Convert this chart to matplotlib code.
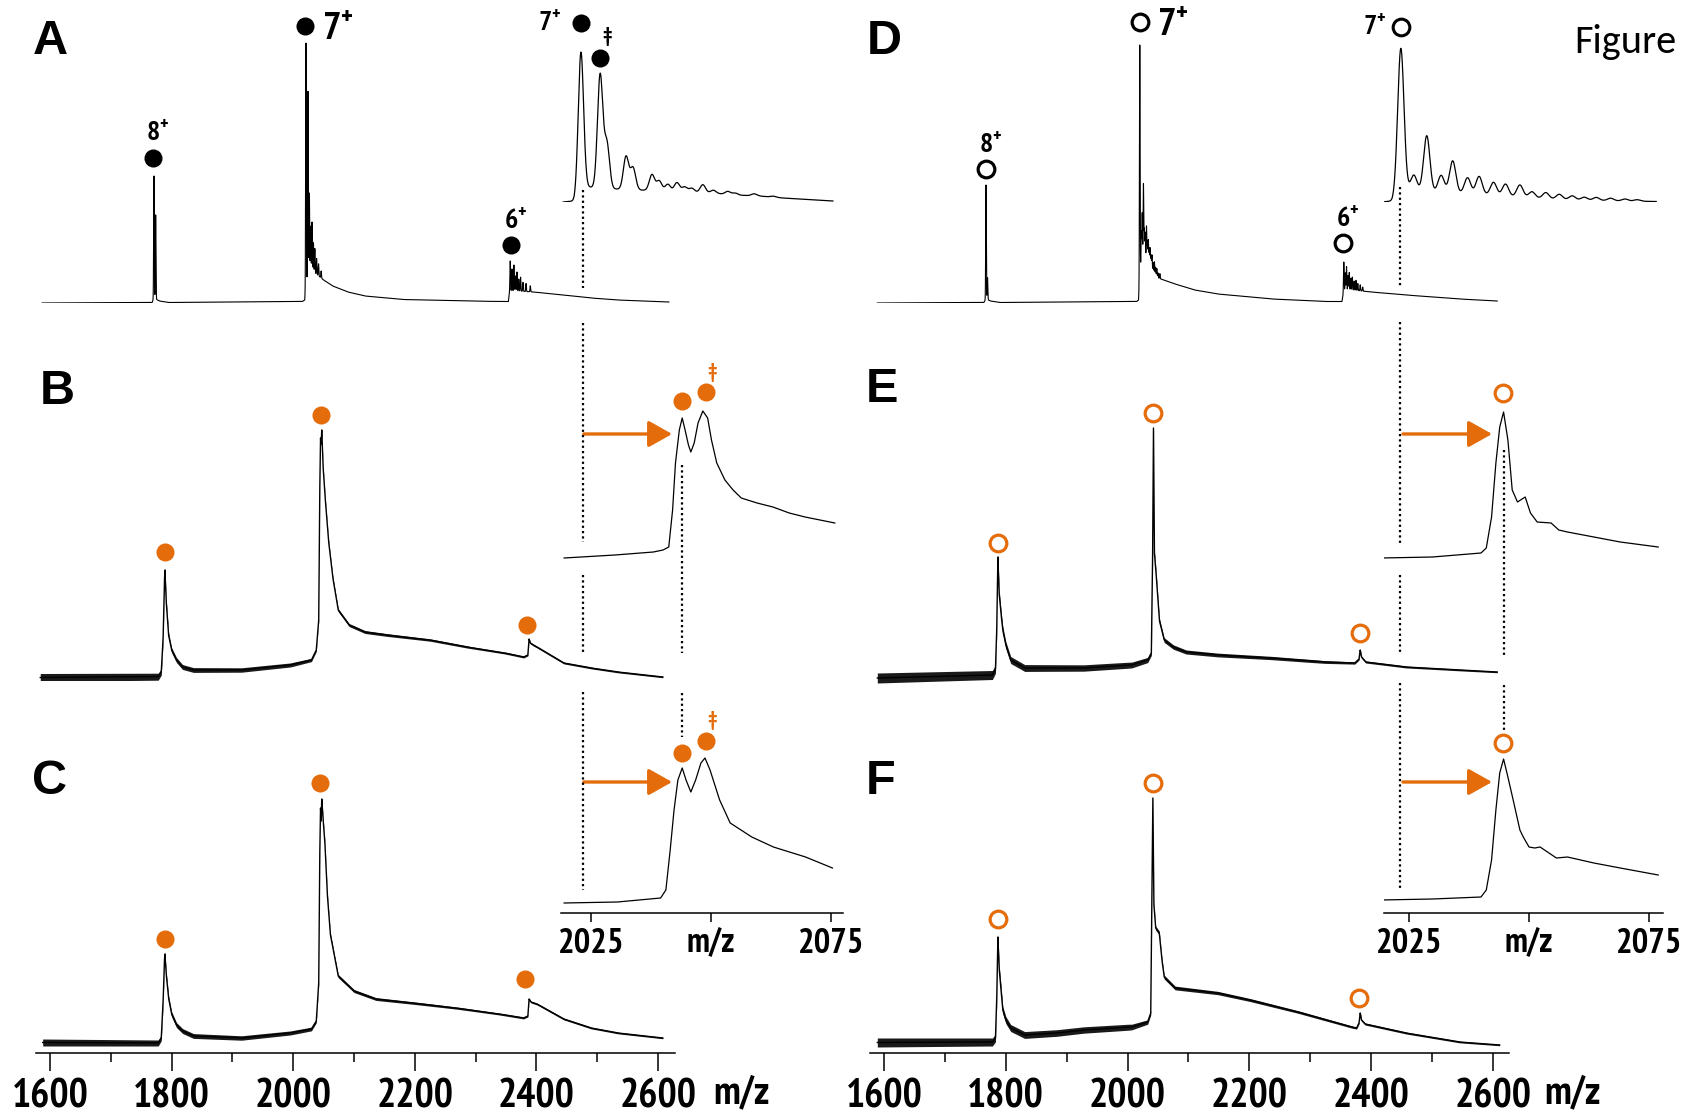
import numpy as np
import matplotlib
matplotlib.use("Agg")
import matplotlib.pyplot as plt
from matplotlib import font_manager

W, H = 1684, 1116
ORANGE = "#E46C0A"

# ---------------- main spectra, full m/z range ----------------
# A and D: sharp isotopic spikes on a background (m/z, intensity)
a_bg_mz = [1587, 1768, 1771, 1780, 1795, 2015, 2019, 2021, 2028, 2040, 2050, 2065, 2090,
           2118, 2180, 2312, 2354, 2356, 2370, 2395, 2420, 2445, 2490, 2533, 2618]
a_bg_int = [0, 0.5, 5, 2, 0.5, 1.5, 3, 22, 32, 28, 23, 17, 11, 7, 3.5, 1.7, 1.5, 12, 12,
            11, 9.5, 8, 5, 3, 1]
a_pk_mz = [1771, 1773.8, 2021, 2024.3, 2026.6, 2028.8, 2031, 2033.3, 2035.6, 2038.5,
           2041.7, 2046, 2357, 2360, 2363, 2365.5, 2368, 2371, 2374, 2378, 2383, 2390]
a_pk_int = [122, 84, 238, 185, 80, 45, 50, 30, 25, 16, 12, 7, 30, 22, 26, 15, 19, 12, 14,
            9, 8, 6]

d_bg_mz = [1589, 1764, 1767.5, 1775, 1790, 2015, 2018, 2020, 2026, 2032, 2040, 2050, 2078,
           2110, 2148, 2237, 2324, 2352, 2355, 2370, 2400, 2457, 2545, 2607]
d_bg_int = [0, 0.5, 4, 2, 0.5, 1.5, 3, 30, 45, 40, 32, 25, 19, 13, 9, 4, 1.5, 1.5, 12, 13,
            11, 8, 4, 2]
d_pk_mz = [1767.5, 1770, 2020, 2022.5, 2024, 2026, 2027.5, 2029, 2031, 2032.5, 2034,
           2035.5, 2037, 2038.5, 2040, 2042, 2044, 2046, 2048, 2050, 2053, 2355, 2357.5,
           2359.5, 2362, 2364, 2366.5, 2369, 2372, 2375, 2378, 2382, 2386]
d_pk_int = [114, 22, 228, 35, 50, 74, 30, 28, 36, 22, 25, 18, 20, 14, 16, 10, 12, 8, 8, 5,
            5, 29, 18, 24, 15, 18, 12, 13, 9, 10, 7, 6, 4]

# B, C, E, F: profile traces (m/z, intensity) and baseline noise band width
b_mz = [1584, 1778, 1783, 1786, 1788, 1789, 1791, 1795, 1800, 1808, 1818, 1836, 1915, 1995,
        2030, 2038, 2042, 2043.5, 2045, 2046, 2047, 2049, 2052, 2058, 2065, 2074, 2092,
        2118, 2154, 2225, 2286, 2348, 2379, 2386, 2388, 2390, 2395, 2401, 2445, 2490,
        2534, 2608]
b_int = [2.5, 3.3, 8, 40, 95, 110, 80, 45, 30, 20, 13, 10, 10, 15, 20, 30, 60, 180, 242,
         236, 250, 215, 187, 140, 103, 70, 55, 48, 45, 40, 33, 27, 23, 25, 41, 37, 35, 33,
         17, 12, 8, 3]
b_noise_mz = [1584, 1778, 1800, 2000, 2040, 2100, 2300, 2608]
b_noise = [8, 7, 5, 4, 3, 3, 2, 1.5]

c_mz = [1588, 1778, 1783, 1786, 1788, 1789, 1791, 1795, 1800, 1808, 1818, 1836, 1915, 1995,
        2030, 2038, 2042, 2043.5, 2045, 2046, 2047, 2049, 2052, 2056, 2061, 2074, 2100,
        2136, 2197, 2268, 2339, 2379, 2386, 2388, 2391, 2401, 2445, 2490, 2534, 2608]
c_int = [10.5, 10, 15, 50, 90, 99, 80, 55, 39, 28, 22, 17, 15, 20, 24, 32, 70, 190, 245,
         232, 254, 235, 212, 160, 119, 77, 62, 54, 50, 45, 39, 35, 37, 54, 51, 49, 34, 25,
         20, 15]
c_noise_mz = [1588, 1778, 1800, 2000, 2100, 2300, 2608]
c_noise = [7, 6, 5, 4, 3, 2, 1.5]

e_mz = [1589, 1778, 1783, 1785, 1787, 1789, 1792, 1795, 1800, 1808, 1831, 1928, 2007, 2033,
        2039, 2041, 2042.5, 2044, 2046, 2049, 2052, 2060, 2075, 2096, 2148, 2236, 2324,
        2373, 2380, 2382, 2384, 2391, 2457, 2545, 2607]
e_int = [5, 8, 14, 50, 126, 90, 70, 53, 38, 23, 15, 15, 18, 23, 30, 120, 255, 130, 116, 90,
         63, 43, 36, 31, 28, 25, 21, 20, 24, 33, 26, 21, 16, 13, 11]
e_noise_mz = [1589, 1778, 1800, 2000, 2040, 2100, 2300, 2400, 2607]
e_noise = [10, 9, 7, 6, 5, 4, 3, 2, 1.5]

f_mz = [1589, 1778, 1783, 1785, 1787, 1789, 1792, 1795, 1800, 1808, 1831, 1884, 1928, 2007,
        2033, 2038, 2041.5, 2043, 2046, 2052, 2056, 2060, 2078, 2148, 2201, 2280, 2368,
        2376, 2380, 2382, 2384, 2390, 2457, 2545, 2611]
f_int = [10.5, 11, 15, 50, 116, 85, 65, 43, 33, 25, 18, 20, 23, 26, 31, 40, 255, 150, 125,
         120, 95, 76, 65, 60, 53, 41, 26, 25, 30, 40, 33, 29, 20, 11, 8]
f_noise_mz = [1589, 1778, 1800, 2000, 2040, 2200, 2400, 2611]
f_noise = [9, 8, 7, 6, 4, 3, 2, 1.5]

# ---------------- insets, 7+ region ----------------
ia_bg_mz = [2019.2, 2021.5, 2022.5, 2024, 2027, 2030, 2035, 2040, 2045, 2050, 2055, 2060,
            2065, 2070, 2075.4]
ia_bg_int = [0, 1, 8, 15, 14, 13, 12, 11, 10, 9, 7, 6, 4, 2.5, 1]
ia_pk_mz = [2022.9, 2026.9, 2028.3, 2032.3, 2033.75, 2037.7, 2039.2, 2041.0, 2042.9, 2044.5,
            2046.0, 2048.3, 2050.5, 2053.5, 2055.0, 2059.0, 2063.0]
ia_pk_int = [140, 113, 45, 33, 22, 16, 10, 7, 9, 5, 4, 8, 3, 3, 2, 2, 1]

id_bg_mz = [2019.4, 2021.5, 2022.5, 2024, 2026, 2030, 2035, 2040, 2045, 2050, 2055, 2060,
            2065, 2070, 2076.5]
id_bg_int = [0, 1, 6, 11, 11, 10, 9, 7.5, 6, 4.5, 3, 2, 1.5, 1, 0.5]
id_pk_mz = [2023.3, 2026.0, 2028.7, 2031.7, 2034.1, 2037.2, 2039.6, 2042.6, 2045.1, 2048.1,
            2050.6, 2053.5, 2056.3, 2059.0, 2061.5, 2064.0, 2067.0, 2070.0, 2072.5]
id_pk_int = [145, 16, 56, 17, 32, 16, 18, 13, 12, 12, 6, 6, 5, 4, 3, 3, 2.5, 2, 1.5]

ib_mz = [2019.4, 2030, 2038, 2040, 2041.2, 2042.0, 2042.6, 2043.4, 2044.0, 2044.6, 2045.3,
         2045.8, 2046.5, 2047.3, 2048.3, 2049.3, 2050.1, 2051.2, 2052.9, 2054.6, 2056.3,
         2059.6, 2062.9, 2066.3, 2069.6, 2075.8]
ib_int = [10, 13, 16, 18, 21, 58, 105, 138, 150, 138, 123, 116, 125, 145, 157, 150, 128,
          105, 88, 78, 70, 65, 61, 55, 51, 45]

ic_mz = [2019.4, 2030.5, 2039.5, 2040.6, 2041.5, 2042.3, 2043.1, 2044.0, 2044.8, 2045.8,
         2046.8, 2047.9, 2048.75, 2049.8, 2051.8, 2054.0, 2058.5, 2063.0, 2069.7, 2075.3]
ic_int = [10, 11, 15, 23, 63, 103, 133, 145, 133, 121, 133, 150, 155, 143, 113, 90, 76, 66,
          56, 45]

ie_mz = [2019.3, 2029.9, 2040.0, 2041.1, 2042.2, 2043.1, 2043.9, 2044.7, 2045.6, 2046.5,
         2047.6, 2049.2, 2050.3, 2051.7, 2054.6, 2056.2, 2058.0, 2063.5, 2069.0, 2076.9]
ie_int = [10, 11, 15, 20, 51, 105, 141, 156, 128, 78, 66, 71, 55, 46, 45, 38, 36, 31, 26,
          21]

if_mz = [2019.1, 2029.9, 2040.0, 2041.1, 2042.2, 2043.1, 2043.9, 2044.7, 2045.6, 2046.7,
         2048.1, 2048.8, 2050.0, 2051.2, 2052.3, 2055.7, 2058.0, 2063.5, 2069.0, 2076.9]
if_int = [13, 14, 16, 23, 53, 103, 140, 154, 136, 113, 83, 76, 66, 65, 66, 55, 56, 50, 45,
          38]

# marker positions (m/z, intensity) for the charge states 8+, 7+, 6+
a_mark_mz, a_mark_int = [1769, 2019.5, 2358], [145, 277, 58]
d_mark_mz, d_mark_int = [1767.5, 2019.6, 2353], [134, 281, 60]
b_mark_mz, b_mark_int = [1789, 2046, 2385], [128, 265, 55]
c_mark_mz, c_mark_int = [1789, 2044, 2382], [114, 270, 74]
e_mark_mz, e_mark_int = [1788, 2042.5, 2382], [140, 270, 50]
f_mark_mz, f_mark_int = [1788, 2042.5, 2380], [134, 270, 55]
charge_labels = ["8", "7", "6"]

main_ticks = [1600, 1800, 2000, 2200, 2400, 2600]
main_minor = [1700, 1900, 2100, 2300, 2500]
inset_ticks = [2025, 2050, 2075]
inset_ticklabels = ["2025", "m/z", "2075"]


def first_font(cands, need_bold=False):
    faces = font_manager.fontManager.ttflist
    for c in cands:
        w = [f.weight for f in faces if f.name == c]
        if not w:
            continue
        if need_bold and not any(isinstance(x, int) and x >= 700 or x == "bold" for x in w):
            continue
        return c
    return "DejaVu Sans"


NARROW = first_font(["Liberation Sans Narrow", "Arial Narrow", "PT Sans Narrow",
                     "Roboto Condensed", "Fira Sans Condensed", "IBM Plex Sans Condensed",
                     "Asap Condensed", "Barlow Condensed", "Liberation Sans"], True)
ARIAL = first_font(["Liberation Sans", "Arimo", "DejaVu Sans"], True)
CALIBRI = first_font(["Carlito", "Lato", "Open Sans"])
plt.rcParams["mathtext.fontset"] = "custom"
plt.rcParams["mathtext.bf"] = NARROW + ":bold"
plt.rcParams["mathtext.rm"] = NARROW + ":bold"

fig = plt.figure(figsize=(W / 100, H / 100), dpi=100)


def px_axes(x0, x1, y_base, xlim, height=300):
    ax = fig.add_axes([x0 / W, 1 - y_base / H, (x1 - x0) / W, height / H])
    ax.set_xlim(*xlim)
    ax.set_ylim(0, height)
    ax.patch.set_alpha(0)
    for s in ax.spines.values():
        s.set_visible(False)
    ax.set_xticks([])
    ax.set_yticks([])
    return ax


def spike_trace(bg_mz, bg_int, pk_mz, pk_int, sigma, step):
    x = np.arange(bg_mz[0], bg_mz[-1], step)
    y = np.interp(x, bg_mz, bg_int)
    for m, h in zip(pk_mz, pk_int):
        y = y + h * np.exp(-0.5 * ((x - m) / sigma) ** 2)
    return x, y


def profile(ax, mz, inten, noise_mz=None, noise=None, lw=1.0):
    x = np.arange(mz[0], mz[-1], 0.1)
    y = np.interp(x, mz, inten)
    if noise is not None:
        n = np.interp(x, noise_mz, noise)
        ax.fill_between(x, y - n / 2, y + n / 2, color="0.1", lw=0)
    ax.plot(x, y, color="black", lw=lw)


def bold_axis(ax, ticks, labels, size, major_len, minor=None, pad=5):
    ax.spines["bottom"].set_visible(True)
    ax.spines["bottom"].set_linewidth(1.1)
    ax.set_xticks(ticks)
    ax.set_xticklabels(labels, fontsize=size, fontweight="bold", family=NARROW)
    ax.tick_params(axis="x", which="major", length=major_len, width=1.1, direction="out",
                   pad=pad)
    if minor is not None:
        ax.set_xticks(minor, minor=True)
        ax.tick_params(axis="x", which="minor", length=major_len / 2, width=1.1,
                       direction="out")


def charge_marks(ax, mz, inten, color, filled, labels=None, big=1):
    for i, (m, h) in enumerate(zip(mz, inten)):
        if filled:
            ax.plot(m, h, "o", ms=13, color=color, mec="none", clip_on=False)
        else:
            ax.plot(m, h, "o", ms=12, mfc="white", mec=color, mew=2.3, clip_on=False)
        if labels is None:
            continue
        txt = r"$\mathbf{" + labels[i] + "^{+}}$"
        if i == big:
            ax.annotate(txt, (m, h), xytext=(17, -3), textcoords="offset pixels",
                        fontsize=28, ha="left", va="center")
        else:
            ax.annotate(txt, (m, h), xytext=(5, 24), textcoords="offset pixels",
                        fontsize=20, ha="center", va="center")


XL_LEFT, XL_RIGHT = (1577, 2628), (1577, 2626.3)
IL_LEFT, IL_RIGHT = (2018.75, 2077.5), (2019.8, 2077.9)

# ---------------- main panels ----------------
axA = px_axes(36, 675, 303, XL_LEFT)
x, y = spike_trace(a_bg_mz, a_bg_int, a_pk_mz, a_pk_int, 0.5, 0.05)
axA.plot(x, y, color="black", lw=0.8)
charge_marks(axA, a_mark_mz, a_mark_int, "black", True, charge_labels)

axB = px_axes(36, 675, 680, XL_LEFT)
profile(axB, b_mz, b_int, b_noise_mz, b_noise)
charge_marks(axB, b_mark_mz, b_mark_int, ORANGE, True)

axC = px_axes(36, 675, 1053, XL_LEFT)
profile(axC, c_mz, c_int, c_noise_mz, c_noise)
charge_marks(axC, c_mark_mz, c_mark_int, ORANGE, True)
bold_axis(axC, main_ticks, [str(t) for t in main_ticks], 29, 13, main_minor, pad=5)

axD = px_axes(870, 1509, 303, XL_RIGHT)
x, y = spike_trace(d_bg_mz, d_bg_int, d_pk_mz, d_pk_int, 0.5, 0.05)
axD.plot(x, y, color="black", lw=0.8)
charge_marks(axD, d_mark_mz, d_mark_int, "black", False, charge_labels)

axE = px_axes(870, 1509, 683, XL_RIGHT)
profile(axE, e_mz, e_int, e_noise_mz, e_noise)
charge_marks(axE, e_mark_mz, e_mark_int, ORANGE, False)

axF = px_axes(870, 1509, 1053, XL_RIGHT)
profile(axF, f_mz, f_int, f_noise_mz, f_noise)
charge_marks(axF, f_mark_mz, f_mark_int, ORANGE, False)
bold_axis(axF, main_ticks, [str(t) for t in main_ticks], 29, 13, main_minor, pad=5)

# ---------------- insets ----------------
iA = px_axes(561, 843, 202, IL_LEFT, 200)
x, y = spike_trace(ia_bg_mz, ia_bg_int, ia_pk_mz, ia_pk_int, 0.55, 0.02)
iA.plot(x, y, color="black", lw=0.9)
iA.plot(2022.9, 179, "o", ms=13, color="black", mec="none", clip_on=False)
iA.plot(2026.9, 144, "o", ms=13, color="black", mec="none", clip_on=False)
iA.annotate(r"$\mathbf{7^{+}}$", (2022.9, 179), xytext=(-20, 0), textcoords="offset pixels",
            fontsize=20, ha="right", va="center")
iA.annotate("‡", (2026.9, 144), xytext=(7, 21), textcoords="offset pixels", fontsize=16,
            fontweight="bold", family=[NARROW, "DejaVu Sans"], ha="center", va="center")

iD = px_axes(1384, 1663, 202, IL_RIGHT, 200)
x, y = spike_trace(id_bg_mz, id_bg_int, id_pk_mz, id_pk_int, 0.65, 0.02)
iD.plot(x, y, color="black", lw=0.9)
iD.plot(2023.3, 175, "o", ms=12, mfc="white", mec="black", mew=2.2, clip_on=False)
iD.annotate(r"$\mathbf{7^{+}}$", (2023.3, 175), xytext=(-14, 0), textcoords="offset pixels",
            fontsize=20, ha="right", va="center")

iB = px_axes(561, 843, 568, IL_LEFT, 200)
iB.plot(ib_mz, ib_int, color="black", lw=0.9)
iC = px_axes(561, 843, 913, IL_LEFT, 200)
iC.plot(ic_mz, ic_int, color="black", lw=0.9)
for ax, p1, p2 in [(iB, 167, 176), (iC, 160, 172)]:
    ax.plot([2044.0, 2049.0], [p1, p2], "o", ms=13, color=ORANGE, mec="none",
            clip_on=False)
    ax.annotate("‡", (2049.0, p2), xytext=(6, 20), textcoords="offset pixels",
                fontsize=16, fontweight="bold", color=ORANGE,
                family=[NARROW, "DejaVu Sans"], ha="center", va="center")
bold_axis(iC, inset_ticks, inset_ticklabels, 25, 6.5, pad=4)

iE = px_axes(1384, 1663, 568, IL_RIGHT, 200)
iE.plot(ie_mz, ie_int, color="black", lw=0.9)
iE.plot(2044.5, 175, "o", ms=12, mfc="white", mec=ORANGE, mew=2.3, clip_on=False)
iF = px_axes(1384, 1663, 913, IL_RIGHT, 200)
iF.plot(if_mz, if_int, color="black", lw=0.9)
iF.plot(2044.5, 170, "o", ms=12, mfc="white", mec=ORANGE, mew=2.3, clip_on=False)
bold_axis(iF, inset_ticks, inset_ticklabels, 25, 6.5, pad=4)

# shift arrows (from the apo 7+ position to the new peak)
arrow = dict(arrowstyle="-|>,head_length=0.8,head_width=0.45", mutation_scale=18, lw=2.4,
             color=ORANGE, shrinkA=0, shrinkB=0)
for ax, x0, x1, yy in [(iB, 2023.5, 2041.9, 134), (iC, 2023.5, 2041.9, 131),
                       (iE, 2023.75, 2042.3, 134), (iF, 2023.75, 2042.3, 131)]:
    ax.annotate("", xy=(x1, yy), xytext=(x0, yy), arrowprops=arrow)

# ---------------- dotted guide lines across panels ----------------
ov = fig.add_axes([0, 0, 1, 1])
ov.set_xlim(0, W)
ov.set_ylim(H, 0)
ov.axis("off")
ov.patch.set_alpha(0)
guides = [
    (iA, 2023.3, [(190, 288), (323, 542), (575, 653), (692, 890)]),
    (iB, 2044.0, [(465, 653), (693, 737)]),
    (iD, 2023.2, [(187, 287), (322, 543), (575, 653), (683, 890)]),
    (iE, 2044.7, [(450, 658), (685, 732)]),
]
for ax, mz, segs in guides:
    gx = ax.transData.transform((mz, 0))[0]
    for y0, y1 in segs:
        ov.plot([gx, gx], [y0, y1], color="black", lw=1.6, ls=(0, (1, 1.4)))

# ---------------- text ----------------
for letter, (lx, ly) in zip("ABCDEF", [(50, 41), (57, 392), (50, 781), (884, 41),
                                        (882, 390), (881, 782)]):
    ov.text(lx, ly, letter, fontsize=35, fontweight="bold", family=ARIAL, ha="center",
            va="center")
for mx in (741, 1572):
    ov.text(mx, 1093, "m/z", fontsize=29, fontweight="bold", family=NARROW, ha="center",
            va="center")
ov.text(1625, 53, "Figure", fontsize=29, family=CALIBRI, ha="center", va="baseline")

fig.savefig("out.png", dpi=100)
